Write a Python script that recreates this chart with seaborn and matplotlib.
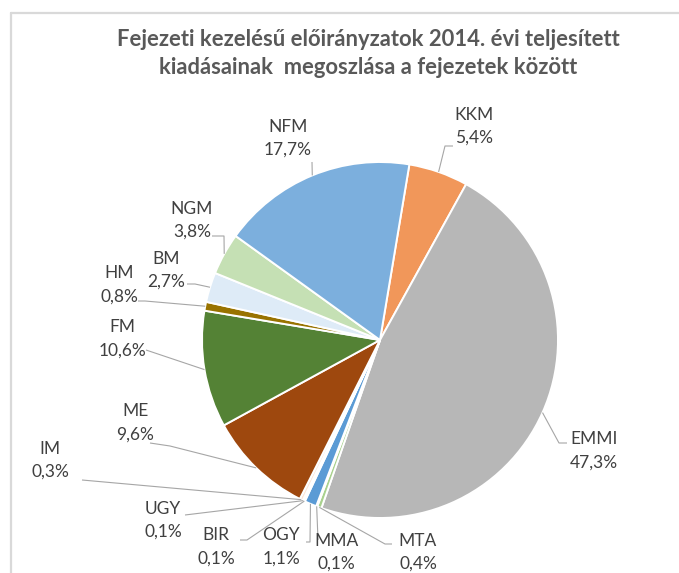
import numpy as np
import matplotlib
matplotlib.use("Agg")
import matplotlib.pyplot as plt
import seaborn as sns

# ---- data ----
categories = ["KKM", "EMMI", "MTA", "MMA", "OGY", "BIR", "UGY", "IM",
              "ME", "FM", "HM", "BM", "NGM", "NFM"]
shares = [5.4, 47.3, 0.4, 0.1, 1.1, 0.1, 0.1, 0.3, 9.6, 10.6, 0.8, 2.7, 3.8, 17.7]
colors = ["#F1975A", "#B7B7B7", "#A9D18E", "#F2F2F2", "#5B9BD5", "#DAE3F3",
          "#E2F0D9", "#FBE5D6", "#9E480E", "#548235", "#997300", "#DEEBF7",
          "#C5E0B4", "#7CAFDD"]
title_lines = ["Fejezeti kezelésű előirányzatok 2014. évi teljesített",
               "kiadásainak  megoszlása a fejezetek között"]

# ---- layout (pixel coordinates, y from top) ----
W, H = 679, 573
center_px = (380, 340)
radius_px = 178
first_angle_cw_from_top = 9.5
label_pos = {  # center of two-line label block
    "KKM": (474, 126), "EMMI": (594, 451), "MTA": (418, 552), "MMA": (336, 552),
    "OGY": (281, 547), "BIR": (216, 547), "UGY": (163, 520), "IM": (50, 460),
    "ME": (135, 423), "FM": (122, 339), "HM": (119, 285), "BM": (166, 270),
    "NGM": (192, 220), "NFM": (288, 138),
}
leader_anchor = {  # points from label side toward the pie
    "KKM": [(453, 146), (445, 146)], "EMMI": [(567, 443), (559, 443)],
    "MTA": [(392, 544), (385, 544)], "MMA": [(318, 540)],
    "OGY": [(306, 542), (310, 542)], "BIR": [(240, 540), (247, 540)],
    "UGY": [(185, 515)], "IM": [(82, 480)],
    "ME": [(150, 443), (170, 446)], "FM": [(146, 350)],
    "HM": [(138, 301), (145, 301)], "BM": [(187, 284), (195, 284)],
    "NGM": [(212, 236), (224, 236)], "NFM": [(312, 162)],
}

sns.set_theme(style="white")
plt.rcParams["font.family"] = ["Lato", "DejaVu Sans"]

fig = plt.figure(figsize=(W / 100, H / 100), dpi=100)
ax = fig.add_axes([0, 0, 1, 1])

cx, cy = center_px[0], H - center_px[1]
wedges, _ = ax.pie(shares, colors=colors, startangle=90 - first_angle_cw_from_top,
                   counterclock=False, center=(cx, cy), radius=radius_px,
                   wedgeprops=dict(edgecolor="white", linewidth=1.4))
ax.set_xlim(0, W)
ax.set_ylim(0, H)
ax.set_aspect("equal")
ax.set_axis_off()

# labels and leader lines
lc = "#A6A6A6"
for w, name, val in zip(wedges, categories, shares):
    mid = np.deg2rad((w.theta1 + w.theta2) / 2)
    ex, ey = cx + radius_px * np.cos(mid), cy + radius_px * np.sin(mid)
    pts = [(x, H - y) for x, y in leader_anchor[name]] + [(ex, ey)]
    xs, ys = zip(*pts)
    ax.plot(xs, ys, color=lc, lw=0.8, solid_capstyle="butt")
    lx, ly = label_pos[name]
    ax.text(lx, H - (ly - 11.5), name, ha="center", va="center", fontsize=12.5,
            color="#404040")
    ax.text(lx, H - (ly + 11.5), f"{val:.1f}%".replace(".", ","), ha="center",
            va="center", fontsize=12.5, color="#404040")

# title
for line, ty in zip(title_lines, [40, 68]):
    ax.text(368, H - ty, line, ha="center", va="center", fontsize=15.8,
            fontweight="bold", color="#595959")

# chart frame
fc = "#D9D9D9"
ax.plot([11, W], [H - 13, H - 13], color=fc, lw=1.6)
ax.plot([11, 11], [0, H - 13], color=fc, lw=1.6)

fig.savefig("out.png", dpi=100, facecolor="white")
